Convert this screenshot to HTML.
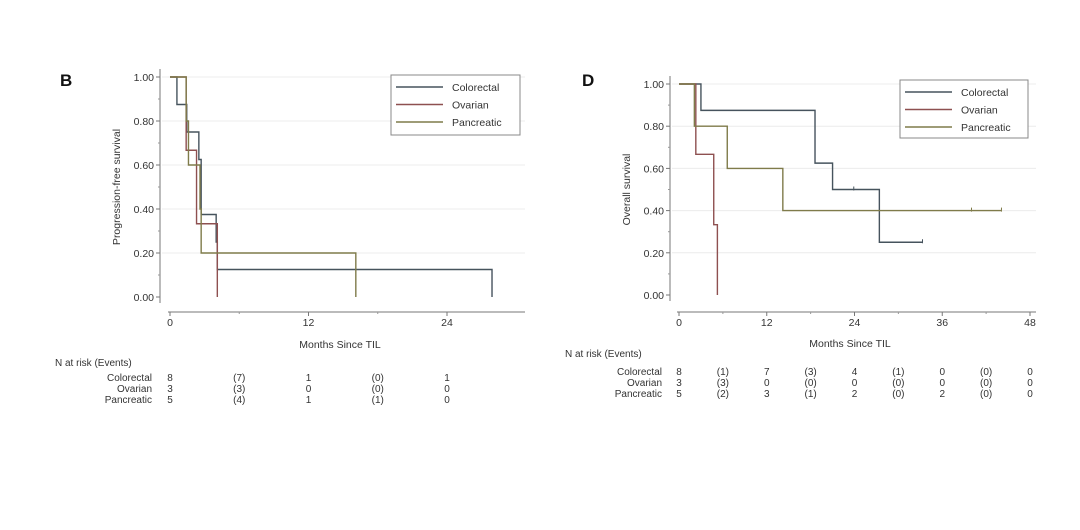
<!DOCTYPE html>
<html><head><meta charset="utf-8"><style>
html,body{margin:0;padding:0;background:#fff;}
svg{display:block;font-family:"Liberation Sans",Arial,sans-serif;}
</style></head><body>
<svg id="c" width="1080" height="530" viewBox="0 0 1080 530">
<text x="60" y="86" font-size="17" font-weight="bold" fill="#111">B</text>
<text x="582" y="86" font-size="17" font-weight="bold" fill="#111">D</text>
</svg>
<script>
const seriesNames = ["Colorectal","Ovarian","Pancreatic"];
const seriesColors = ["#46535d","#8e5050","#7f7b4a"];
const yTicks = [0,0.2,0.4,0.6,0.8,1.0];
// Panel B (progression-free survival)
const pfsTimes = [
  [0,0.6,1.45,2.5,2.7,4.0,4.1,27.9],
  [0,1.4,2.3,4.1],
  [0,1.4,1.6,2.6,2.7,16.1]];
const pfsSurv = [
  [1,0.875,0.75,0.625,0.375,0.25,0.125,0],
  [1,0.667,0.333,0],
  [1,0.8,0.6,0.4,0.2,0]];
const pfsEnd = [27.9,4.1,16.1];
const pfsXTicks = [0,12,24];
const pfsRisk = [["8","(7)","1","(0)","1"],["3","(3)","0","(0)","0"],["5","(4)","1","(1)","0"]];
const pfsRiskTimes = [0,6,12,18,24];
// Panel D (overall survival)
const osTimes = [
  [0,3.0,18.6,21.0,27.4],
  [0,2.3,4.75,5.25],
  [0,2.1,6.6,14.2]];
const osSurv = [
  [1,0.875,0.625,0.5,0.25],
  [1,0.667,0.333,0],
  [1,0.8,0.6,0.4]];
const osEnd = [33.3,5.25,44.1];
const osCensorT = [[23.9,33.3],[],[40,44.1]];
const osXTicks = [0,12,24,36,48];
const osRisk = [["8","(1)","7","(3)","4","(1)","0","(0)","0"],["3","(3)","0","(0)","0","(0)","0","(0)","0"],["5","(2)","3","(1)","2","(0)","2","(0)","0"]];
const osRiskTimes = [0,6,12,18,24,30,36,42,48];

const svg=document.getElementById('c');
const NS='http://www.w3.org/2000/svg';
function mk(tag,attrs,txt){const e=document.createElementNS(NS,tag);for(const k in attrs)e.setAttribute(k,attrs[k]);if(txt!==undefined)e.textContent=txt;svg.appendChild(e);return e;}

function panel(o){
  const sx=t=>o.x0+(o.x1-o.x0)*t/o.tmax;
  const sy=v=>o.y0+(o.y1-o.y0)*v;
  yTicks.forEach(v=>{if(v>0){const g=mk('line',{x1:o.axX+2,x2:o.gridR,y1:sy(v),y2:sy(v),stroke:'#ececec','stroke-width':1});}});
  let a=mk('line',{x1:o.axX,x2:o.axX,y1:sy(1)-8,y2:sy(0)+6,stroke:'#777','stroke-width':1});
  
  yTicks.forEach(v=>{
    mk('line',{x1:o.axX-4,x2:o.axX,y1:sy(v),y2:sy(v),stroke:'#777'});
    const t=mk('text',{x:o.axX-6,y:sy(v)+4,'font-size':10.5,'text-anchor':'end',fill:'#333'},v.toFixed(2));
    
  });
  for(let v=0.1;v<1;v+=0.2){mk('line',{x1:o.axX-2,x2:o.axX,y1:sy(v),y2:sy(v),stroke:'#999'});}
  const yt=mk('text',{x:0,y:0,'font-size':10.5,'text-anchor':'middle',fill:'#333',transform:`translate(${o.axX-40},${sy(0.5)}) rotate(-90)`},o.ylab);
  
  a=mk('line',{x1:o.x0-2,x2:o.axR,y1:o.axY,y2:o.axY,stroke:'#777'});
  
  o.xt.forEach(t=>{
    mk('line',{x1:sx(t),x2:sx(t),y1:o.axY,y2:o.axY+4,stroke:'#777'});
    const l=mk('text',{x:sx(t),y:o.axY+14,'font-size':10.5,'text-anchor':'middle',fill:'#333'},String(t));
    
  });
  for(let t=6;t<o.tmax+6;t+=12){if(sx(t)<o.axR)mk('line',{x1:sx(t),x2:sx(t),y1:o.axY,y2:o.axY+2,stroke:'#999'});}
  const xl=mk('text',{x:o.xlabX,y:o.xlabY,'font-size':10.5,'text-anchor':'middle',fill:'#333'},'Months Since TIL');
  
  o.times.forEach((ts,i)=>{
    let d=`M${sx(ts[0])},${sy(o.surv[i][0])}`;
    for(let k=1;k<ts.length;k++){d+=`H${sx(ts[k])}V${sy(o.surv[i][k])}`;}
    d+=`H${sx(o.end[i])}`;
    const p=mk('path',{d:d,fill:'none',stroke:seriesColors[i],'stroke-width':1.4});
    
    
    (o.cens?o.cens[i]:[]).forEach(ct=>{
      let v=o.surv[i][0];for(let k=0;k<ts.length;k++)if(ts[k]<=ct)v=o.surv[i][k];
      const c=mk('line',{x1:sx(ct),x2:sx(ct),y1:sy(v)-3,y2:sy(v)+1,stroke:seriesColors[i],'stroke-width':1});
      
    });
  });
  const L=o.leg;
  const lb=mk('rect',{x:L.x,y:L.y,width:L.w,height:L.h,fill:'#fff',stroke:'#888','stroke-width':1});
  
  seriesNames.forEach((n,i)=>{
    const yy=L.y+12+i*17.5;
    const ln=mk('line',{x1:L.x+5,x2:L.x+52,y1:yy,y2:yy,stroke:seriesColors[i],'stroke-width':1.4});
    
    const tx=mk('text',{x:L.x+61,y:yy+4,'font-size':10.5,fill:'#333'},n);
    
  });
  const h=mk('text',{x:o.riskHX,y:o.riskHY,'font-size':10,fill:'#333'},'N at risk (Events)');
  
  seriesNames.forEach((n,i)=>{
    const yy=o.riskY0+i*o.riskDy;
    const lab=mk('text',{x:o.riskLX,y:yy,'font-size':10,'text-anchor':'end',fill:'#333'},n);
    
    o.risk[i].forEach((v,j)=>{
      const c=mk('text',{x:sx(o.riskT[j]),y:yy,'font-size':10,'text-anchor':'middle',fill:'#333'},v);
      
    });
  });
}
panel({x0:170,x1:447,tmax:24,y0:297,y1:77,axX:160,axY:312,axR:525,gridR:525,ylab:'Progression-free survival',xt:pfsXTicks,xlabX:340,xlabY:348,
  times:pfsTimes,surv:pfsSurv,end:pfsEnd,leg:{x:391,y:75,w:129,h:60},
  risk:pfsRisk,riskT:pfsRiskTimes,riskHX:55,riskHY:366,riskY0:381,riskDy:11,riskLX:152});
panel({x0:679,x1:1030,tmax:48,y0:295,y1:84,axX:670,axY:312,axR:1036,gridR:1036,ylab:'Overall survival',xt:osXTicks,xlabX:850,xlabY:347,
  times:osTimes,surv:osSurv,end:osEnd,cens:osCensorT,leg:{x:900,y:80,w:128,h:58},
  risk:osRisk,riskT:osRiskTimes,riskHX:565,riskHY:357,riskY0:375,riskDy:11,riskLX:662});
</script>
</body></html>
